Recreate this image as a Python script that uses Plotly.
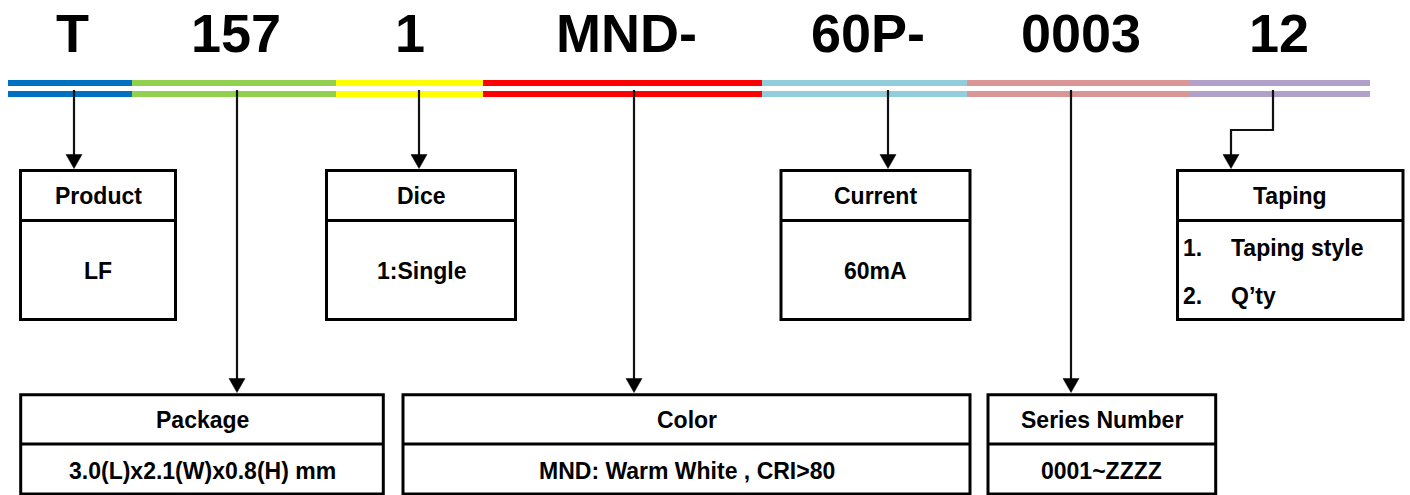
import plotly.graph_objects as go

# ---------------- data ----------------
codes = ["T", "157", "1", "MND-", "60P-", "0003", "12"]
fields = ["Product", "Package", "Dice", "Color", "Current", "Series Number", "Taping"]
field_values = ["LF", "3.0(L)x2.1(W)x0.8(H) mm", "1:Single", "MND: Warm White , CRI>80",
                "60mA", "0001~ZZZZ", None]
taping_items = ["Taping style", "Q’ty"]
taping_nums = ["1.", "2."]

# ---------------- styles / layout geometry ----------------
seg_colors = ["#0070C0", "#92D050", "#FFFF00", "#FF0000", "#92CDDC", "#DA9694", "#B1A0C7"]
seg_edges = [8, 132, 336, 483, 762, 967, 1190, 1370]
bar_rows = [(80, 86), (91, 97)]
code_x = [72.5, 236, 410, 626, 868, 1081, 1279]
code_y = 32.5
arrow_x = [74, 237, 419, 634, 888, 1071, 1273]
# boxes: (x0, x1, row)  row 0 = upper, 1 = lower
box_geom = [(20.5, 175.5, 0), (20.7, 383.3, 1), (326.5, 515.5, 0), (403, 970, 1),
            (781, 970, 0), (988, 1215.7, 1), (1177.5, 1403, 0)]
rows = {0: dict(top=170.5, div=220.5, bot=319.5, hy=196.3, by=271, tip=168.5),
        1: dict(top=394.7, div=444, bot=494, hy=420.3, by=471, tip=392.5)}
bend_y = 130
bend_x = 1231

FONT = "Liberation Sans, Arial, sans-serif"
W, H = 1410, 495
LINE_C = "#111111"

fig = go.Figure()
shapes = []
annotations = []

# coloured double bar
for (y0, y1) in bar_rows:
    for i, c in enumerate(seg_colors):
        shapes.append(dict(type="rect", xref="x", yref="y", x0=seg_edges[i], x1=seg_edges[i + 1],
                           y0=y0, y1=y1, fillcolor=c, line=dict(width=0), layer="above"))

# code labels
for cx, t in zip(code_x, codes):
    annotations.append(dict(x=cx, y=code_y, xref="x", yref="y", text=t, showarrow=False,
                            xanchor="center", yanchor="middle",
                            font=dict(family=FONT, size=54, color="black", weight="bold")))

# arrows
for i, ax in enumerate(arrow_x):
    bx0, bx1, row = box_geom[i]
    r = rows[row]
    tip = r["tip"]
    y_start = bar_rows[1][0] - 1
    head_h, head_w = 14, 8
    if fields[i] == "Taping":
        path = f"M{ax},{y_start} L{ax},{bend_y} L{bend_x},{bend_y} L{bend_x},{tip - head_h + 1}"
        shapes.append(dict(type="path", path=path, xref="x", yref="y",
                           line=dict(color=LINE_C, width=2.2)))
        hx = bend_x
    else:
        shapes.append(dict(type="line", xref="x", yref="y", x0=ax, x1=ax, y0=y_start,
                           y1=tip - head_h + 1, line=dict(color=LINE_C, width=2.2)))
        hx = ax
    shapes.append(dict(type="path", xref="x", yref="y",
                       path=f"M{hx - head_w},{tip - head_h} L{hx + head_w},{tip - head_h} L{hx},{tip} Z",
                       fillcolor="black", line=dict(color="black", width=0.5)))

# boxes
for i, (bx0, bx1, row) in enumerate(box_geom):
    r = rows[row]
    shapes.append(dict(type="rect", xref="x", yref="y", x0=bx0, x1=bx1, y0=r["top"], y1=r["bot"],
                       fillcolor="rgba(0,0,0,0)", line=dict(color="black", width=3)))
    shapes.append(dict(type="line", xref="x", yref="y", x0=bx0, x1=bx1, y0=r["div"], y1=r["div"],
                       line=dict(color="black", width=3)))
    cx = (bx0 + bx1) / 2
    annotations.append(dict(x=cx, y=r["hy"], xref="x", yref="y", text=fields[i], showarrow=False,
                            xanchor="center", yanchor="middle",
                            font=dict(family=FONT, size=23, color="black", weight="bold")))
    if field_values[i] is not None:
        annotations.append(dict(x=cx, y=r["by"], xref="x", yref="y", text=field_values[i],
                                showarrow=False, xanchor="center", yanchor="middle",
                                font=dict(family=FONT, size=23, color="black", weight="bold")))
    else:
        item_y = [247.5, 296]
        for k, (n, it) in enumerate(zip(taping_nums, taping_items)):
            annotations.append(dict(x=bx0 + 3, y=item_y[k], xref="x", yref="y", text=n,
                                    showarrow=False, xanchor="left", yanchor="middle",
                                    font=dict(family=FONT, size=23, color="black", weight="bold")))
            annotations.append(dict(x=bx0 + 51, y=item_y[k], xref="x", yref="y", text=it,
                                    showarrow=False, xanchor="left", yanchor="middle",
                                    font=dict(family=FONT, size=23, color="black", weight="bold")))

fig.update_layout(
    width=W, height=H,
    margin=dict(l=0, r=0, t=0, b=0),
    paper_bgcolor="white", plot_bgcolor="white",
    xaxis=dict(range=[0, W], visible=False, fixedrange=True),
    yaxis=dict(range=[H, 0], visible=False, fixedrange=True),
    shapes=shapes, annotations=annotations, showlegend=False,
)
fig.write_html("out.html", config={"displayModeBar": False},
               post_script="document.body.style.margin='0';document.body.style.overflow='hidden';")
